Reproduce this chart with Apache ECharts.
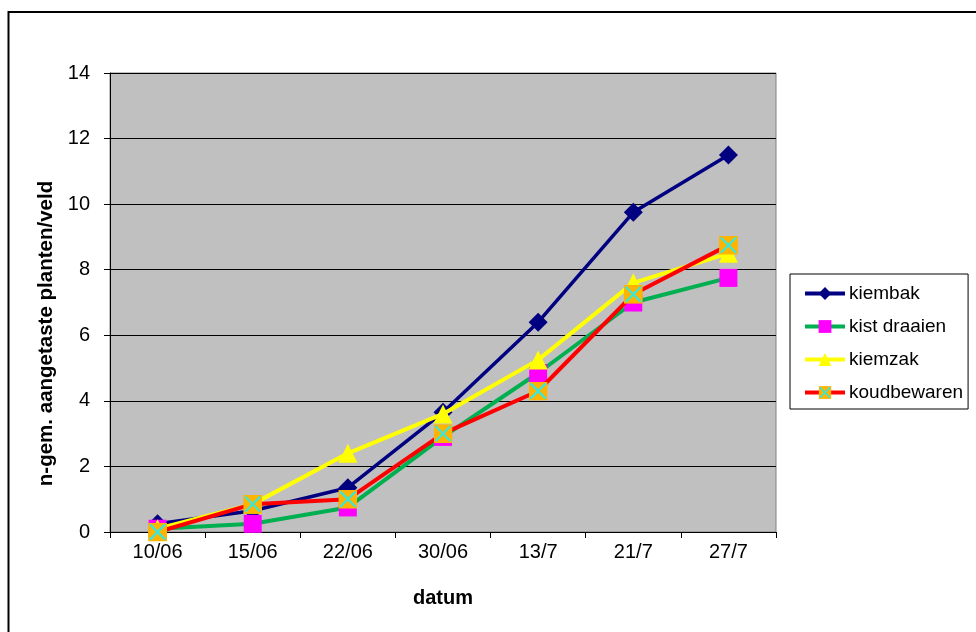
<!DOCTYPE html>
<html>
<head>
<meta charset="utf-8">
<script src="https://cdn.jsdelivr.net/npm/echarts@6/dist/echarts.min.js"></script>
<style>
  html, body { margin: 0; padding: 0; background: #ffffff; }
  #chart { width: 976px; height: 632px; }
</style>
</head>
<body>
<div id="chart"></div>
<script>
// Sample dates
const categories = ['10/06', '15/06', '22/06', '30/06', '13/7', '21/7', '27/7'];

// Mean number of affected plants per field, per storage method
const kiembak     = [0.25, 0.65, 1.35, 3.65, 6.4, 9.75, 11.5];
const kistDraaien = [0.1, 0.25, 0.75, 2.9, 4.85, 7.0, 7.75];
const kiemzak     = [0.1, 0.85, 2.4, 3.6, 5.25, 7.6, 8.5];
const koudbewaren = [0.0, 0.85, 1.0, 3.0, 4.3, 7.25, 8.75];

const seriesNames = ['kiembak', 'kist draaien', 'kiemzak', 'koudbewaren'];

const FONT = '"Liberation Sans", Arial, sans-serif';

// Orange square with a turquoise cross
const crossSquareSvg =
  "<svg xmlns='http://www.w3.org/2000/svg' width='20' height='20' viewBox='0 0 20 20'>" +
  "<rect x='0' y='0' width='20' height='20' fill='#FFB400'/>" +
  "<path d='M2 2L18 18M18 2L2 18' stroke='#3CE6D8' stroke-width='2.4' fill='none'/>" +
  "</svg>";
const crossSquare = 'image://data:image/svg+xml;charset=utf-8,' + encodeURIComponent(crossSquareSvg);

const chart = echarts.init(document.getElementById('chart'), null, { renderer: 'canvas' });

chart.setOption({
  backgroundColor: '#ffffff',
  animation: false,
  textStyle: { fontFamily: FONT, color: '#000' },
  graphic: [{
    type: 'rect',
    shape: { x: 8.5, y: 12, width: 1100, height: 800 },
    style: { fill: 'none', stroke: '#000', lineWidth: 2 },
    silent: true,
    z: 0
  }],
  grid: {
    left: 110, top: 73, width: 666, height: 459,
    show: true,
    backgroundColor: '#C0C0C0',
    borderColor: '#808080',
    borderWidth: 1
  },
  legend: {
    orient: 'vertical',
    left: 790, top: 274,
    padding: [10, 5, 7, 13],
    itemWidth: 40, itemHeight: 16,
    itemGap: 14,
    backgroundColor: '#ffffff',
    borderColor: '#000',
    borderWidth: 1,
    lineStyle: { width: 4 },
    textStyle: { fontFamily: FONT, fontSize: 19, color: '#000', padding: [0, 0, 0, -1] },
    data: seriesNames
  },
  xAxis: {
    type: 'category',
    data: categories,
    boundaryGap: true,
    name: 'datum',
    nameLocation: 'middle',
    nameGap: 56,
    nameTextStyle: { fontFamily: FONT, fontSize: 20, fontWeight: 'bold', color: '#000' },
    axisLine: { lineStyle: { color: '#000', width: 1 } },
    axisTick: { show: true, interval: 0, length: 6, lineStyle: { color: '#000' } },
    axisLabel: { fontFamily: FONT, fontSize: 20, color: '#000', margin: 10, interval: 0 },
    splitLine: { show: false }
  },
  yAxis: {
    type: 'value',
    min: 0, max: 14, interval: 2,
    name: 'n-gem. aangetaste planten/veld',
    nameLocation: 'middle',
    nameRotate: 90,
    nameGap: 51,
    nameTextStyle: {
      fontFamily: FONT, fontSize: 20.5, fontWeight: 'bold', color: '#000',
      padding: [0, 62, 0, 0]
    },
    axisLine: { show: true, lineStyle: { color: '#000', width: 1 } },
    axisTick: { show: true, length: 6, lineStyle: { color: '#000' } },
    axisLabel: { fontFamily: FONT, fontSize: 20, color: '#000', margin: 20 },
    splitLine: { show: true, lineStyle: { color: '#000', width: 1 } }
  },
  series: [
    {
      name: 'kiembak', type: 'line', data: kiembak,
      symbol: 'diamond', symbolSize: 19,
      lineStyle: { color: '#000080', width: 3.5 },
      itemStyle: { color: '#000080' },
      z: 2
    },
    {
      name: 'kist draaien', type: 'line', data: kistDraaien,
      symbol: 'rect', symbolSize: 18,
      lineStyle: { color: '#00B050', width: 4 },
      itemStyle: { color: '#FF00FF' },
      z: 3
    },
    {
      name: 'kiemzak', type: 'line', data: kiemzak,
      symbol: 'triangle', symbolSize: 19,
      lineStyle: { color: '#FFFF00', width: 4 },
      itemStyle: { color: '#FFFF00' },
      z: 4
    },
    {
      name: 'koudbewaren', type: 'line', data: koudbewaren,
      symbol: crossSquare, symbolSize: 19,
      lineStyle: { color: '#FF0000', width: 4 },
      itemStyle: { color: '#FF0000' },
      z: 5
    }
  ]
});
</script>
</body>
</html>
